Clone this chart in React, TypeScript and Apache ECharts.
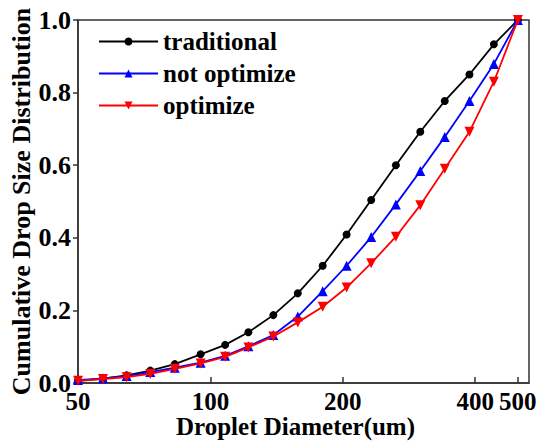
import React, { useEffect, useRef } from "react";
import * as echarts from "echarts";

const diameters = [50, 57, 64.5, 73, 83, 95, 108, 122, 139, 158, 180, 204, 232, 264, 300, 341, 388, 441, 500];
const traditional = [0.006, 0.012, 0.021, 0.034, 0.052, 0.079, 0.105, 0.140, 0.187, 0.247, 0.323, 0.409, 0.504, 0.600, 0.692, 0.777, 0.850, 0.933, 1.0];
const notOptimize = [0.008, 0.013, 0.019, 0.030, 0.042, 0.056, 0.075, 0.101, 0.132, 0.183, 0.253, 0.323, 0.402, 0.492, 0.584, 0.678, 0.777, 0.879, 1.0];
const optimize = [0.006, 0.011, 0.016, 0.025, 0.039, 0.054, 0.072, 0.098, 0.128, 0.167, 0.210, 0.263, 0.330, 0.403, 0.490, 0.590, 0.692, 0.830, 1.0];
const xTicks = [50, 100, 200, 400, 500];
const seriesNames = ["traditional", "not optimize", "optimize"];

const FONT = "Liberation Serif";

export default function App() {
  const ref = useRef<HTMLDivElement>(null);
  useEffect(() => {
    if (!ref.current) return;
    const chart = echarts.init(ref.current, null, { renderer: "svg" });
    const mk = (vals: number[]) => diameters.map((d, i) => [d, vals[i]]);
    chart.setOption({
      animation: false,
      backgroundColor: "#fff",
      textStyle: { fontFamily: FONT },
      grid: {
        left: 78,
        right: 9,
        top: 20,
        bottom: 60,
        containLabel: false,
        outerBoundsMode: "none",
        show: true,
        borderColor: "#333",
        borderWidth: 1.5,
      },
      legend: {
        left: 93,
        top: 24,
        orient: "vertical",
        itemWidth: 59,
        itemHeight: 10,
        itemGap: 7,
        data: seriesNames,
        textStyle: {
          fontFamily: FONT,
          fontWeight: "bold",
          fontSize: 25,
          color: "#000",
          lineHeight: 25,
        },
      },
      xAxis: {
        type: "log",
        logBase: 10,
        min: 50,
        max: 530,
        name: "Droplet Diameter(um)",
        nameLocation: "middle",
        nameGap: 31,
        nameMoveOverlap: false,
        nameTextStyle: {
          fontFamily: FONT,
          fontWeight: "bold",
          fontSize: 25,
          color: "#000",
          padding: [0, 16, 0, 0],
        },
        axisLine: { show: true, lineStyle: { color: "#333", width: 1.5 } },
        axisTick: { show: true, inside: true, length: 6, lineStyle: { color: "#333", width: 1.5 }, customValues: xTicks },
        axisLabel: {
          customValues: xTicks,
          margin: 6,
          fontFamily: FONT,
          fontWeight: "bold",
          fontSize: 25,
          color: "#000",
          formatter: (v: number) => String(Math.round(v)),
        },
        splitLine: { show: false },
        minorTick: { show: false },
      },
      yAxis: {
        type: "value",
        min: 0,
        max: 1,
        interval: 0.2,
        name: "Cumulative Drop Size Distribution",
        nameLocation: "middle",
        nameGap: 44,
        nameMoveOverlap: false,
        nameTextStyle: { fontFamily: FONT, fontWeight: "bold", fontSize: 26, color: "#000" },
        axisLine: { show: true, lineStyle: { color: "#333", width: 1.5 } },
        axisTick: { show: true, inside: false, length: 5, lineStyle: { color: "#333", width: 1.5 } },
        axisLabel: {
          margin: 7,
          fontFamily: FONT,
          fontWeight: "bold",
          fontSize: 26,
          color: "#000",
          formatter: (v: number) => v.toFixed(1),
        },
        splitLine: { show: false },
      },
      series: [
        {
          name: seriesNames[0],
          type: "line",
          data: mk(traditional),
          symbol: "circle",
          symbolSize: 8,
          color: "#000000",
          lineStyle: { width: 1.8, color: "#000000" },
          itemStyle: { color: "#000000" },
          z: 3,
        },
        {
          name: seriesNames[1],
          type: "line",
          data: mk(notOptimize),
          symbol: "triangle",
          symbolSize: 10,
          color: "#0000ff",
          lineStyle: { width: 1.8, color: "#0000ff" },
          itemStyle: { color: "#0000ff" },
          z: 4,
        },
        {
          name: seriesNames[2],
          type: "line",
          data: mk(optimize),
          symbol: "triangle",
          symbolRotate: 180,
          symbolSize: 10,
          color: "#ff0000",
          lineStyle: { width: 1.8, color: "#ff0000" },
          itemStyle: { color: "#ff0000" },
          z: 5,
        },
      ],
    });
    return () => chart.dispose();
  }, []);
  return (
    <div
      ref={ref}
      style={{ position: "fixed", left: 0, top: 0, width: 538, height: 443, background: "#fff" }}
    />
  );
}
